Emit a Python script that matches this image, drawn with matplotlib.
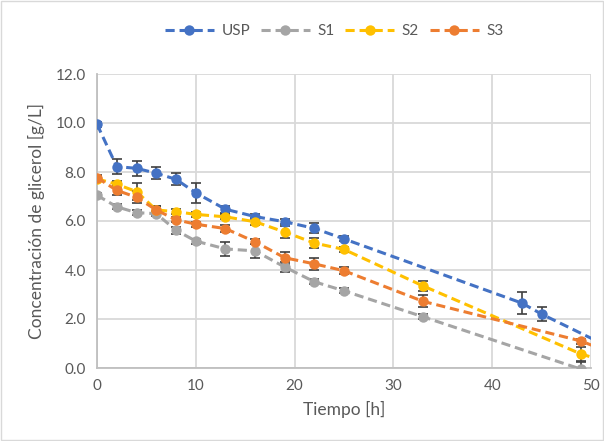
import matplotlib
matplotlib.use("Agg")
import matplotlib.pyplot as plt
from matplotlib.patches import Rectangle

plt.rcParams['font.family'] = ['Lato', 'DejaVu Sans']

t_main = [0, 2, 4, 6, 8, 10, 13, 16, 19, 22, 25, 43, 45, 51]
usp = [9.95, 8.22, 8.15, 7.95, 7.7, 7.15, 6.48, 6.18, 5.97, 5.7, 5.27, 2.65, 2.2, 1.02]
usp_err = [0.1, 0.3, 0.3, 0.25, 0.25, 0.4, 0.15, 0.1, 0.1, 0.2, 0.1, 0.44, 0.3, 0.0]

t_s = [0, 2, 4, 6, 8, 10, 13, 16, 19, 22, 25, 33, 49, 51]
s1 = [7.05, 6.58, 6.34, 6.3, 5.62, 5.18, 4.86, 4.78, 4.12, 3.52, 3.15, 2.09, -0.05, -0.3]
s1_err = [0.1, 0.1, 0.1, 0.1, 0.15, 0.1, 0.3, 0.3, 0.2, 0.1, 0.1, 0.1, 0.3, 0.0]
s2 = [7.72, 7.5, 7.2, 6.45, 6.38, 6.27, 6.17, 5.97, 5.55, 5.1, 4.84, 3.35, 0.57, 0.33]
s2_err = [0.1, 0.15, 0.35, 0.15, 0.1, 0.1, 0.1, 0.15, 0.25, 0.2, 0.1, 0.2, 0.3, 0.0]
s3 = [7.77, 7.25, 6.97, 6.45, 6.05, 5.87, 5.69, 5.15, 4.5, 4.25, 3.97, 2.72, 1.1, 0.78]
s3_err = [0.1, 0.2, 0.25, 0.15, 0.1, 0.1, 0.15, 0.1, 0.25, 0.25, 0.15, 0.25, 0.1, 0.0]

series = [
    ("USP", t_main, usp, usp_err, "#4472C4"),
    ("S1", t_s, s1, s1_err, "#A5A5A5"),
    ("S2", t_s, s2, s2_err, "#FFC000"),
    ("S3", t_s, s3, s3_err, "#ED7D31"),
]

fig = plt.figure(figsize=(6.04, 4.41), dpi=100)
ax = fig.add_axes([97/604, 1-368/441, (591-97)/604, (368-74)/441])

for name, t, v, e, c in series:
    ax.errorbar(t, v, yerr=e, fmt='none', ecolor='#404040', elinewidth=1.2,
                capsize=3.5, capthick=1.2, zorder=3, clip_on=True)
    ax.plot(t, v, linestyle=(0, (3, 1.6)), color=c, lw=2.2, marker='o',
            markersize=7.5, markeredgewidth=0, label=name, zorder=4, clip_on=True)

ax.set_xlim(0, 50)
ax.set_ylim(0, 12)
ax.set_xticks(range(0, 51, 10))
ax.set_yticks([0, 2, 4, 6, 8, 10, 12])
ax.set_yticklabels([f"{v:.1f}" for v in [0, 2, 4, 6, 8, 10, 12]])
ax.grid(True, color='#D9D9D9', lw=1.3)
ax.set_axisbelow(True)
for s in ['top', 'right']:
    ax.spines[s].set_visible(False)
for s in ['left', 'bottom']:
    ax.spines[s].set_color('#BFBFBF')
    ax.spines[s].set_linewidth(1.3)
ax.tick_params(length=0, labelsize=11, colors='#595959', pad=8)
ax.set_xlabel("Tiempo [h]", fontsize=12.5, color='#595959', labelpad=6)
ax.set_ylabel("Concentración de glicerol [g/L]", fontsize=12.5, color='#595959', labelpad=8)

leg = ax.legend(loc='center', bbox_to_anchor=(0.48, 1.145), ncol=4, frameon=False,
                fontsize=11, handlelength=3.2, columnspacing=0.7, handletextpad=0.5,
                labelcolor='#595959')

fig.patches.append(Rectangle((0.002, 0.002), 0.996, 0.996, transform=fig.transFigure,
                             fill=False, edgecolor='#D9D9D9', lw=1))

fig.savefig("out.png", dpi=100)
